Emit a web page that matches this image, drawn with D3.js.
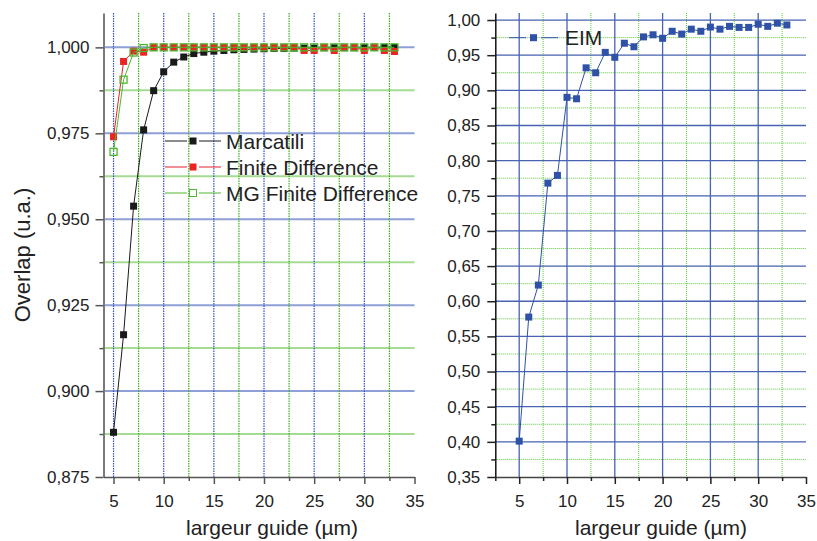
<!DOCTYPE html>
<html>
<head>
<meta charset="utf-8">
<script src="https://cdn.jsdelivr.net/npm/d3@7"></script>
<style>
body { margin: 0; background: #fff; }
text { font-family: "Liberation Sans", Arial, sans-serif; }
</style>
</head>
<body>
<div id="chart-area"></div>
<script>
// data
var largeur = [5, 6, 7, 8, 9, 10, 11, 12, 13, 14, 15, 16, 17, 18, 19, 20, 21, 22, 23, 24, 25, 26, 27, 28, 29, 30, 31, 32, 33];
var marcatili = [0.888, 0.9164, 0.9538, 0.976, 0.9874, 0.9929, 0.9957, 0.9972, 0.9982, 0.9986, 0.9989, 0.9991, 0.9993, 0.9994, 0.9995, 0.9996, 0.9997, 0.9997, 0.9998, 0.9998, 0.9998, 0.9999, 0.9999, 0.9999, 0.9999, 0.9999, 1.0, 1.0, 1.0];
var finiteDiff = [0.974, 0.9959, 0.9989, 0.9986, 1.0, 1.0, 1.0, 1.0, 1.0, 1.0, 1.0, 1.0, 1.0, 1.0, 1.0, 1.0, 1.0, 1.0, 1.0, 0.9991, 0.9991, 1.0, 0.9991, 1.0, 1.0, 0.9991, 1.0, 0.9991, 0.9988];
var mgFiniteDiff = [0.9696, 0.9906, 0.9985, 0.9998, 1.0, 1.0, 1.0, 1.0, 1.0, 1.0, 1.0, 1.0, 1.0, 1.0, 1.0, 1.0, 1.0, 1.0, 1.0, 1.0, 1.0, 1.0, 1.0, 1.0, 1.0, 1.0, 1.0, 1.0, 1.0];
var eim = [0.401, 0.5775, 0.623, 0.768, 0.779, 0.890, 0.888, 0.932, 0.925, 0.954, 0.947, 0.967, 0.962, 0.976, 0.979, 0.974, 0.984, 0.980, 0.987, 0.984, 0.990, 0.987, 0.991, 0.9895, 0.9895, 0.994, 0.991, 0.9955, 0.993];

var xTicks = [5, 10, 15, 20, 25, 30, 35];
var xMinor = [2.5, 7.5, 12.5, 17.5, 22.5, 27.5, 32.5];
var leftYTicks = [0.875, 0.900, 0.925, 0.950, 0.975, 1.000];
var leftYMinor = [0.8875, 0.9125, 0.9375, 0.9625, 0.9875];
var rightYTicks = [0.35, 0.40, 0.45, 0.50, 0.55, 0.60, 0.65, 0.70, 0.75, 0.80, 0.85, 0.90, 0.95, 1.00];
var rightYMinor = [0.375, 0.425, 0.475, 0.525, 0.575, 0.625, 0.675, 0.725, 0.775, 0.825, 0.875, 0.925, 0.975];

var leftSeries = [
    {name: "Marcatili", values: marcatili, color: "#1a1a1a", fill: "#1a1a1a"},
    {name: "Finite Difference", values: finiteDiff, color: "#e8202a", fill: "#ee2222"},
    {name: "MG Finite Difference", values: mgFiniteDiff, color: "#4cb82e", fill: "none"}
];

var width = 817;
var height = 541;
var font = '"Liberation Sans", Arial, sans-serif';

function comma(p) {
    return (d) => d.toFixed(p).replace(".", ",");
}

var svg = d3.select("#chart-area")
.append("svg")
.attr("width", width)
.attr("height", height)
.style("background", "#fff");

// ---------- left panel ----------
var xL = d3.scaleLinear().domain([4, 35]).range([103.5, 414.5]);
var yL = d3.scaleLinear().domain([0.875, 1.01]).range([477, 13]);

var gL = svg.append("g");

gL.selectAll(".hgrid").data(leftYTicks.slice(1).concat(leftYMinor)).enter()
.append("line")
.attr("x1", xL(4)).attr("x2", xL(35))
.attr("y1", (d) => yL(d)).attr("y2", (d) => yL(d))
.attr("stroke", (d) => leftYTicks.indexOf(d) >= 0 ? "#8ea0d6" : "#a6db92")
.attr("stroke-width", 2);

gL.selectAll(".vgrid").data(xTicks.slice(0, 6).concat(xMinor.slice(1))).enter()
.append("line")
.attr("x1", (d) => xL(d)).attr("x2", (d) => xL(d))
.attr("y1", yL(1.01)).attr("y2", yL(0.875))
.attr("stroke", (d) => xTicks.indexOf(d) >= 0 ? "#2f4fd0" : "#3fae1e")
.attr("stroke-width", 1.2)
.attr("stroke-dasharray", "1.5,1");

var lineL = d3.line().x((d) => xL(d[0])).y((d) => yL(d[1]));

leftSeries.forEach((s) => {
    var pts = largeur.map((x, i) => [x, s.values[i]]);
    gL.append("path")
    .attr("d", lineL(pts))
    .attr("fill", "none")
    .attr("stroke", s.color)
    .attr("stroke-width", 1);
    gL.selectAll(null).data(pts).enter()
    .append("rect")
    .attr("x", (d) => xL(d[0]) - 3.5)
    .attr("y", (d) => yL(d[1]) - 3.5)
    .attr("width", 7)
    .attr("height", 7)
    .attr("fill", s.fill)
    .attr("stroke", s.fill == "none" ? s.color : "none")
    .attr("stroke-width", 1.3);
});

var yAxisL = gL.append("g")
.attr("transform", "translate(" + xL(4) + ",0)")
.call(d3.axisLeft(yL).tickValues(leftYTicks).tickSize(8).tickPadding(6).tickSizeOuter(0).tickFormat(comma(3)));
gL.append("g")
.attr("transform", "translate(" + xL(4) + ",0)")
.call(d3.axisLeft(yL).tickValues(leftYMinor).tickSize(4).tickFormat(""))
.call((g) => g.select(".domain").remove());

var xAxisL = gL.append("g")
.attr("transform", "translate(0," + yL(0.875) + ")")
.call(d3.axisBottom(xL).tickValues(xTicks).tickSize(7).tickPadding(11).tickSizeOuter(0));
gL.append("g")
.attr("transform", "translate(0," + yL(0.875) + ")")
.call(d3.axisBottom(xL).tickValues(xMinor.slice(1)).tickSize(4).tickFormat(""))
.call((g) => g.select(".domain").remove());

gL.selectAll(".tick line").attr("stroke", "#555").attr("stroke-width", 1.5);
yAxisL.select(".domain").attr("stroke", "#7a7a7a").attr("stroke-width", 2);
xAxisL.select(".domain").attr("stroke", "#555").attr("stroke-width", 1.5);

// legend
leftSeries.forEach((s, i) => {
    var ly = 141 + i * 26;
    var lg = gL.append("g");
    lg.append("line").attr("x1", 165).attr("x2", 187).attr("y1", ly).attr("y2", ly).attr("stroke", s.color);
    lg.append("line").attr("x1", 199).attr("x2", 221).attr("y1", ly).attr("y2", ly).attr("stroke", s.color);
    lg.append("rect")
    .attr("x", 189.5).attr("y", ly - 3.5).attr("width", 7).attr("height", 7)
    .attr("fill", s.fill == "none" ? "#fff" : s.fill)
    .attr("stroke", s.fill == "none" ? s.color : "none");
    lg.append("text")
    .attr("x", 226).attr("y", ly + 7.5)
    .attr("font-size", "21px")
    .attr("fill", "#222")
    .text(s.name);
});

gL.append("text")
.attr("transform", "translate(30,255) rotate(-90)")
.attr("text-anchor", "middle")
.attr("font-size", "22px")
.attr("fill", "#222")
.text("Overlap (u.a.)");

gL.append("text")
.attr("x", 272)
.attr("y", 535)
.attr("text-anchor", "middle")
.attr("font-size", "21px")
.attr("fill", "#222")
.text("largeur guide (\u00b5m)");

// ---------- right panel ----------
var xR = d3.scaleLinear().domain([2.5, 35]).range([495.3, 806]);
var yR = d3.scaleLinear().domain([0.35, 1.01]).range([477, 13]);

var gR = svg.append("g");

gR.selectAll(".hgrid").data(rightYMinor).enter()
.append("line")
.attr("x1", xR(2.5)).attr("x2", xR(35))
.attr("y1", (d) => yR(d)).attr("y2", (d) => yR(d))
.attr("stroke", "#5cc83a")
.attr("stroke-width", 1)
.attr("stroke-dasharray", "1,1");

gR.selectAll(".vgrid").data(xMinor.slice(1)).enter()
.append("line")
.attr("x1", (d) => xR(d)).attr("x2", (d) => xR(d))
.attr("y1", yR(1.01)).attr("y2", yR(0.35))
.attr("stroke", "#5cc83a")
.attr("stroke-width", 1)
.attr("stroke-dasharray", "1,1");

gR.selectAll(".hmaj").data(rightYTicks.slice(1)).enter()
.append("line")
.attr("x1", xR(2.5)).attr("x2", xR(35))
.attr("y1", (d) => yR(d)).attr("y2", (d) => yR(d))
.attr("stroke", "#4763b2")
.attr("stroke-width", 1.3);

gR.selectAll(".vmaj").data(xTicks.slice(0, 6)).enter()
.append("line")
.attr("x1", (d) => xR(d)).attr("x2", (d) => xR(d))
.attr("y1", yR(1.01)).attr("y2", yR(0.35))
.attr("stroke", "#4763b2")
.attr("stroke-width", 1.3);

var eimPts = largeur.map((x, i) => [x, eim[i]]);
var lineR = d3.line().x((d) => xR(d[0])).y((d) => yR(d[1]));

gR.append("path")
.attr("d", lineR(eimPts))
.attr("fill", "none")
.attr("stroke", "#2f52a6")
.attr("stroke-width", 1);

gR.selectAll(".pt").data(eimPts).enter()
.append("rect")
.attr("x", (d) => xR(d[0]) - 3.5)
.attr("y", (d) => yR(d[1]) - 3.5)
.attr("width", 7)
.attr("height", 7)
.attr("fill", "#2f52a6");

var yAxisR = gR.append("g")
.attr("transform", "translate(" + xR(2.5) + ",0)")
.call(d3.axisLeft(yR).tickValues(rightYTicks).tickSize(8).tickPadding(7).tickSizeOuter(0).tickFormat(comma(2)));
gR.append("g")
.attr("transform", "translate(" + xR(2.5) + ",0)")
.call(d3.axisLeft(yR).tickValues(rightYMinor).tickSize(4).tickFormat(""))
.call((g) => g.select(".domain").remove());

var xAxisR = gR.append("g")
.attr("transform", "translate(0," + yR(0.35) + ")")
.call(d3.axisBottom(xR).tickValues(xTicks).tickSize(7).tickPadding(11).tickSizeOuter(0));
gR.append("g")
.attr("transform", "translate(0," + yR(0.35) + ")")
.call(d3.axisBottom(xR).tickValues(xMinor).tickSize(4).tickFormat(""))
.call((g) => g.select(".domain").remove());

gR.selectAll(".tick line").attr("stroke", "#222").attr("stroke-width", 1.5);
yAxisR.select(".domain").attr("stroke", "#111").attr("stroke-width", 1.5);
xAxisR.select(".domain").attr("stroke", "#444").attr("stroke-width", 1.5);

gR.append("line").attr("x1", 509).attr("x2", 526).attr("y1", 37.7).attr("y2", 37.7).attr("stroke", "#2f52a6");
gR.append("line").attr("x1", 541).attr("x2", 558).attr("y1", 37.7).attr("y2", 37.7).attr("stroke", "#2f52a6");
gR.append("rect").attr("x", 530).attr("y", 34.2).attr("width", 7).attr("height", 7).attr("fill", "#2f52a6");
gR.append("text")
.attr("x", 565).attr("y", 45)
.attr("font-size", "21px")
.attr("fill", "#222")
.text("EIM");

gR.append("text")
.attr("x", 661)
.attr("y", 535)
.attr("text-anchor", "middle")
.attr("font-size", "21px")
.attr("fill", "#222")
.text("largeur guide (\u00b5m)");

svg.selectAll(".tick text")
.attr("font-size", "17px")
.attr("font-family", font)
.attr("fill", "#222");
svg.selectAll("g").attr("font-family", font);
</script>
</body>
</html>
